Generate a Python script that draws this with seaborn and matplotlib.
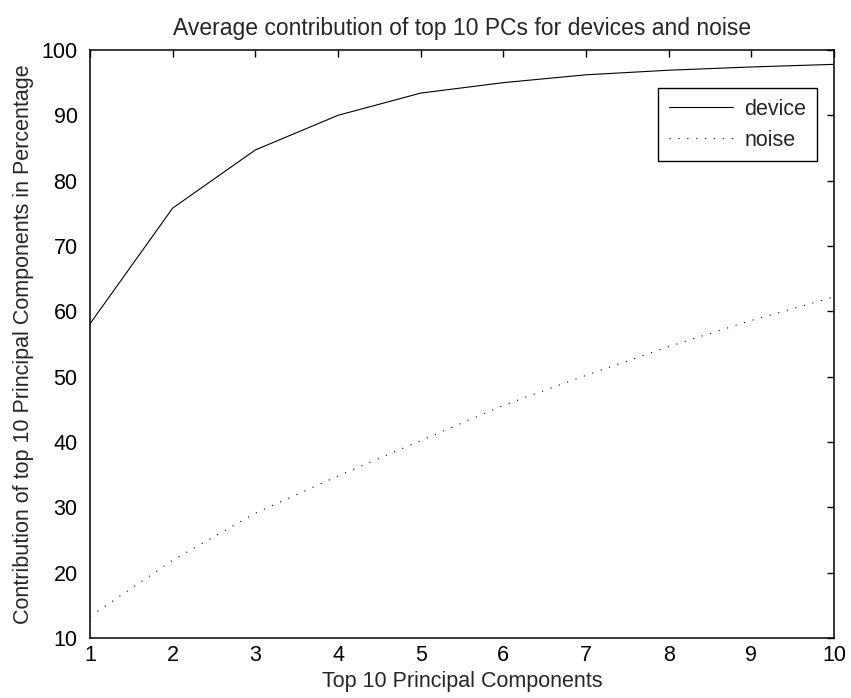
import pandas as pd
import numpy as np
import matplotlib
matplotlib.use('Agg')
import matplotlib.pyplot as plt
import seaborn as sns

# Värden
komponenter = [1, 2, 3, 4, 5, 6, 7, 8, 9, 10]
device = [58.1, 75.8, 84.7, 90.0, 93.4, 95.0, 96.2, 96.9, 97.4, 97.8]
noise = [13.3, 21.9, 29.1, 34.8, 40.2, 45.6, 50.2, 54.6, 58.6, 62.2]

data = pd.DataFrame({
    'komponent': komponenter * 2,
    'andel': device + noise,
    'serie': ['device'] * len(device) + ['noise'] * len(noise),
})

sns.set_style('white')
plt.rcParams['font.family'] = ['Liberation Sans', 'DejaVu Sans']
fs = 15.5

fig = plt.figure(figsize=(8.51, 6.98), dpi=100)
ax = fig.add_axes([0.1058, 0.086, 0.8742, 0.8424])

sns.lineplot(data=data, x='komponent', y='andel', hue='serie', style='serie',
             palette=['black', 'black'], dashes=[(None, None), (1, 7)],
             linewidth=0.8, ax=ax)

ax.set_xlim(1, 10)
ax.set_ylim(10, 100)
ax.set_xticks(komponenter)
ax.set_yticks(range(10, 101, 10))
ax.tick_params(direction='in', top=True, right=True, length=5, width=1,
               labelsize=fs, colors='black')
ax.tick_params(axis='x', pad=5)
ax.tick_params(axis='y', pad=9)
for s in ax.spines.values():
    s.set_color('black')
    s.set_linewidth(1.1)

ax.set_title('Average contribution of top 10 PCs for devices and noise', fontsize=16.5, pad=11)
ax.set_xlabel('Top 10 Principal Components', fontsize=fs, labelpad=4)
ax.set_ylabel('Contribution of top 10 Principal Components in Percentage', fontsize=fs, labelpad=5)

leg = ax.legend(loc='upper right', bbox_to_anchor=(0.977, 0.935), fancybox=False,
                edgecolor='black', framealpha=1, fontsize=fs, handlelength=3.0,
                borderpad=0.5, labelspacing=0.45, handletextpad=0.5, borderaxespad=0)
leg.get_frame().set_linewidth(1)

plt.savefig('out.png', dpi=100)
